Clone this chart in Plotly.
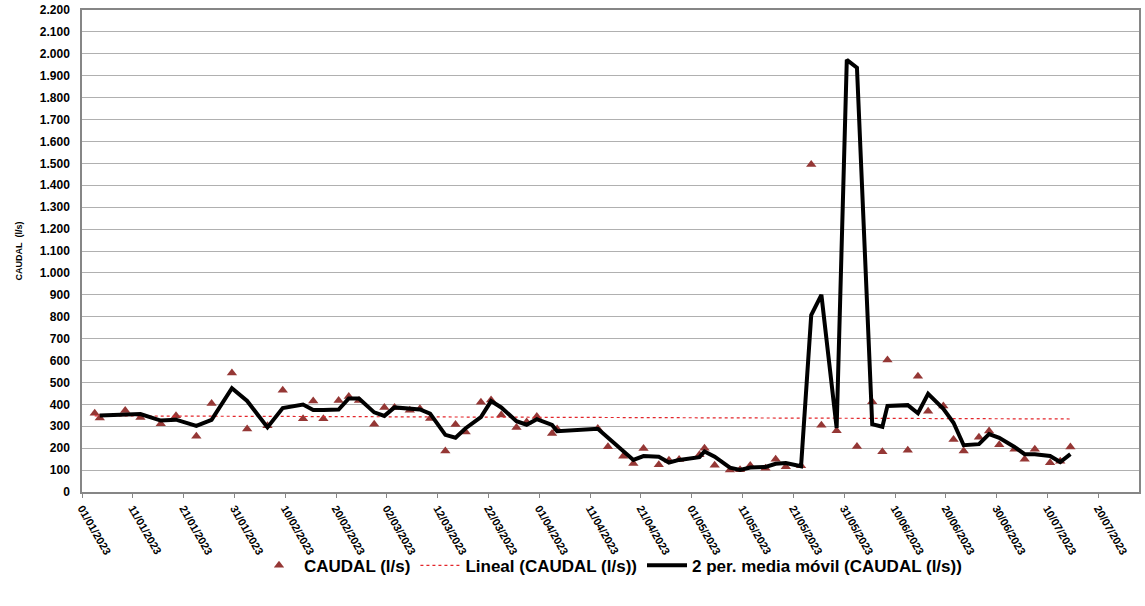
import numpy as np
import pandas as pd
import plotly.graph_objects as go

dates = [
    "2023-01-03", "2023-01-04", "2023-01-09", "2023-01-12", "2023-01-16", "2023-01-19",
    "2023-01-23", "2023-01-26", "2023-01-30", "2023-02-02", "2023-02-06", "2023-02-09",
    "2023-02-13", "2023-02-15", "2023-02-17", "2023-02-20", "2023-02-22", "2023-02-24",
    "2023-02-27", "2023-03-01", "2023-03-03", "2023-03-06", "2023-03-08", "2023-03-10",
    "2023-03-13", "2023-03-15", "2023-03-17", "2023-03-20", "2023-03-22", "2023-03-24",
    "2023-03-27", "2023-03-29", "2023-03-31", "2023-04-03", "2023-04-04", "2023-04-12",
    "2023-04-14", "2023-04-17", "2023-04-19", "2023-04-21", "2023-04-24", "2023-04-26",
    "2023-04-28", "2023-05-02", "2023-05-03", "2023-05-05", "2023-05-08", "2023-05-10",
    "2023-05-12", "2023-05-15", "2023-05-17", "2023-05-19", "2023-05-22", "2023-05-24",
    "2023-05-26", "2023-05-29", "2023-05-31", "2023-06-02", "2023-06-05", "2023-06-07",
    "2023-06-08", "2023-06-12", "2023-06-14", "2023-06-16", "2023-06-19", "2023-06-21",
    "2023-06-23", "2023-06-26", "2023-06-28", "2023-06-30", "2023-07-03", "2023-07-05",
    "2023-07-07", "2023-07-10", "2023-07-12", "2023-07-14",
]
caudal = [
    360, 338, 372, 340, 312, 348,
    255, 404, 543, 288, 302, 464,
    334, 415, 334, 418, 436, 418,
    309, 386, 386, 373, 380, 335,
    187, 308, 274, 410, 420, 352,
    294, 320, 345, 267, 288, 290,
    206, 163, 130, 198, 124, 145,
    148, 170, 200, 122, 100, 102,
    121, 108, 149, 115, 120, 1495,
    305, 280, 3665, 208, 412, 184,
    602, 191, 528, 368, 392, 240,
    187, 250, 278, 216, 195, 150,
    195, 134, 140, 205,
]
tick_dates = pd.date_range("2023-01-01", "2023-07-20", freq="10D")
tick_labels = [d.strftime("%d/%m/%Y") for d in tick_dates]
axis_start = "2023-01-01"
axis_end = "2023-07-28"

x = pd.to_datetime(pd.Series(dates))
y = pd.Series(caudal, dtype=float)

# Excel date axis places each point in the middle of its day slot
half = pd.Timedelta(hours=12)

# Linear trend (least squares on day numbers)
days = (x - x.iloc[0]).dt.days.to_numpy()
slope, intercept = np.polyfit(days, y.to_numpy(), 1)
trend_x = [x.iloc[0], x.iloc[-1]]
trend_y = [intercept, intercept + slope * days[-1]]

# 2-period moving average
ma = y.rolling(2).mean()

font_main = "Liberation Sans, Arial, sans-serif"

fig = go.Figure()
fig.add_trace(go.Scatter(
    x=x, y=y, mode="markers", name="CAUDAL (l/s)",
    marker=dict(symbol="triangle-up", size=9, color="#953735"),
))
fig.add_trace(go.Scatter(
    x=trend_x, y=trend_y, mode="lines", name="Lineal (CAUDAL (l/s))",
    line=dict(color="#e3262b", width=1.2, dash="dot"),
))
fig.add_trace(go.Scatter(
    x=x[1:], y=ma[1:], mode="lines", name="2 per. media móvil (CAUDAL (l/s))",
    line=dict(color="#000000", width=4),
))

fig.update_layout(
    width=1145, height=606,
    margin=dict(l=82, r=6, t=10, b=114),
    paper_bgcolor="white", plot_bgcolor="white",
    separators=",.",
    font=dict(family=font_main, color="#000000", weight=700),
    showlegend=True,
    legend=dict(
        orientation="h", x=0.5, xanchor="center", y=-0.153, yanchor="middle",
        font=dict(size=17, family=font_main, weight=700), itemwidth=40,
        bgcolor="rgba(0,0,0,0)", tracegroupgap=0,
    ),
    xaxis=dict(
        type="date", automargin=False,
        range=[pd.Timestamp(axis_start) - half, pd.Timestamp(axis_end) - half],
        tickvals=[t - half for t in tick_dates],
        ticktext=tick_labels,
        tickangle=60,
        tickfont=dict(size=11, family=font_main, weight=700),
        ticks="outside", ticklen=4, tickcolor="#868686",
        showgrid=False, showline=True, linecolor="#868686", linewidth=1.5,
        mirror=True, zeroline=False,
    ),
    yaxis=dict(
        automargin=False,
        range=[0, 2200], dtick=100, tickformat=",d",
        tickfont=dict(size=12, family=font_main, weight=700),
        showgrid=True, gridcolor="#b0b0b0", gridwidth=1,
        showline=True, linecolor="#868686", linewidth=1.5, mirror=True,
        zeroline=False, ticks="", ticklabelstandoff=8,
        title=dict(text="CAUDAL  (l/s)", font=dict(size=9, family=font_main, weight=700),
                   standoff=16),
    ),
)

fig.write_html(
    "out.html",
    config={"displayModeBar": False},
    post_script="document.body.style.margin='0';document.body.style.overflow='hidden';",
)
